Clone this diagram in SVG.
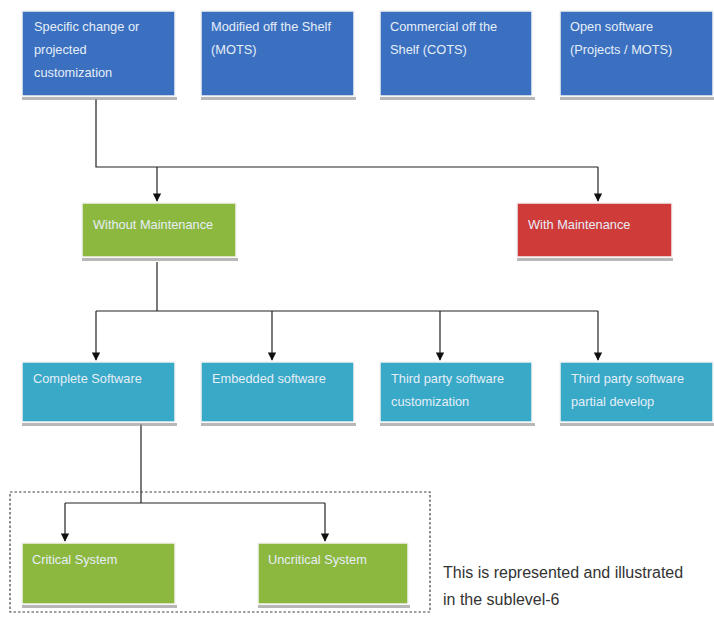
<svg xmlns="http://www.w3.org/2000/svg" width="714" height="617" viewBox="0 0 714 617">
<defs>
<style>
.sh{fill:#9a9a9a;opacity:0.7}
.b{stroke:#f4f4f4;stroke-width:1.5}
.blue{fill:#3b70c0}
.green{fill:#8db83f}
.red{fill:#cf3b39}
.cyan{fill:#38a9c7}
.t{font-family:"Liberation Sans",Arial,sans-serif;font-size:12.8px;fill:#e6eef8}
.ln{fill:none;stroke:#222;stroke-width:1.2}
.note{font-family:"Liberation Sans",Arial,sans-serif;font-size:16px;fill:#333}
</style>
<marker id="ah" viewBox="0 0 10 10" refX="9" refY="5" markerWidth="7" markerHeight="7" orient="auto"><path d="M0,0 L10,5 L0,10 z" fill="#111"/></marker>
</defs>
<rect width="714" height="617" fill="#fff"/>
<g id="connectors">
<path class="ln" d="M96,99 V167 H598"/>
<path class="ln" d="M157,167 V201" marker-end="url(#ah)"/>
<path class="ln" d="M598,167 V201" marker-end="url(#ah)"/>
<path class="ln" d="M157,262 V311"/>
<path class="ln" d="M96,311 H598"/>
<path class="ln" d="M96,311 V360" marker-end="url(#ah)"/>
<path class="ln" d="M272,311 V360" marker-end="url(#ah)"/>
<path class="ln" d="M440,311 V360" marker-end="url(#ah)"/>
<path class="ln" d="M598,311 V360" marker-end="url(#ah)"/>
<path class="ln" d="M141,424 V503"/>
<path class="ln" d="M65,503 H325"/>
<path class="ln" d="M65,503 V541" marker-end="url(#ah)"/>
<path class="ln" d="M325,503 V541" marker-end="url(#ah)"/>
</g>
<rect id="group-box" x="10" y="492" width="420" height="120" fill="none" stroke="#444" stroke-width="1.2" stroke-dasharray="2.5,2"/>
<g id="n1"><rect class="sh" x="22" y="97" width="155" height="3"/><rect class="blue b" x="22" y="11" width="153" height="85"/><text class="t" x="34" y="31">Specific change or</text><text class="t" x="34" y="54">projected</text><text class="t" x="34" y="77">customization</text></g>
<g id="n2"><rect class="sh" x="201" y="97" width="155" height="3"/><rect class="blue b" x="201" y="11" width="153" height="85"/><text class="t" x="211" y="31">Modified off the Shelf</text><text class="t" x="211" y="54">(MOTS)</text></g>
<g id="n3"><rect class="sh" x="380" y="97" width="155" height="3"/><rect class="blue b" x="380" y="11" width="152" height="85"/><text class="t" x="390" y="31">Commercial off the</text><text class="t" x="390" y="54">Shelf (COTS)</text></g>
<g id="n4"><rect class="sh" x="560" y="97" width="154" height="3"/><rect class="blue b" x="560" y="11" width="153" height="85"/><text class="t" x="570" y="31">Open software</text><text class="t" x="570" y="54">(Projects / MOTS)</text></g>
<g id="n5"><rect class="sh" x="82" y="258" width="156" height="3"/><rect class="green b" x="82" y="203" width="154" height="54"/><text class="t" x="93" y="229">Without Maintenance</text></g>
<g id="n6"><rect class="sh" x="517" y="258" width="156" height="3"/><rect class="red b" x="517" y="203" width="155" height="54"/><text class="t" x="528" y="229">With Maintenance</text></g>
<g id="n7"><rect class="sh" x="22" y="423" width="155" height="3"/><rect class="cyan b" x="22" y="362" width="153" height="60"/><text class="t" x="33" y="383">Complete Software</text></g>
<g id="n8"><rect class="sh" x="201" y="423" width="155" height="3"/><rect class="cyan b" x="201" y="362" width="153" height="60"/><text class="t" x="212" y="383">Embedded software</text></g>
<g id="n9"><rect class="sh" x="380" y="423" width="155" height="3"/><rect class="cyan b" x="380" y="362" width="152" height="60"/><text class="t" x="391" y="383">Third party software</text><text class="t" x="391" y="406">customization</text></g>
<g id="n10"><rect class="sh" x="560" y="423" width="154" height="3"/><rect class="cyan b" x="560" y="362" width="153" height="60"/><text class="t" x="571" y="383">Third party software</text><text class="t" x="571" y="406">partial develop</text></g>
<g id="n11"><rect class="sh" x="22" y="605" width="155" height="3"/><rect class="green b" x="22" y="543" width="153" height="61"/><text class="t" x="32" y="564">Critical System</text></g>
<g id="n12"><rect class="sh" x="258" y="605" width="152" height="3"/><rect class="green b" x="258" y="543" width="150" height="61"/><text class="t" x="268" y="564">Uncritical System</text></g>
<g id="note"><text class="note" x="443" y="578">This is represented and illustrated</text><text class="note" x="443" y="605">in the sublevel-6</text></g>
</svg>
